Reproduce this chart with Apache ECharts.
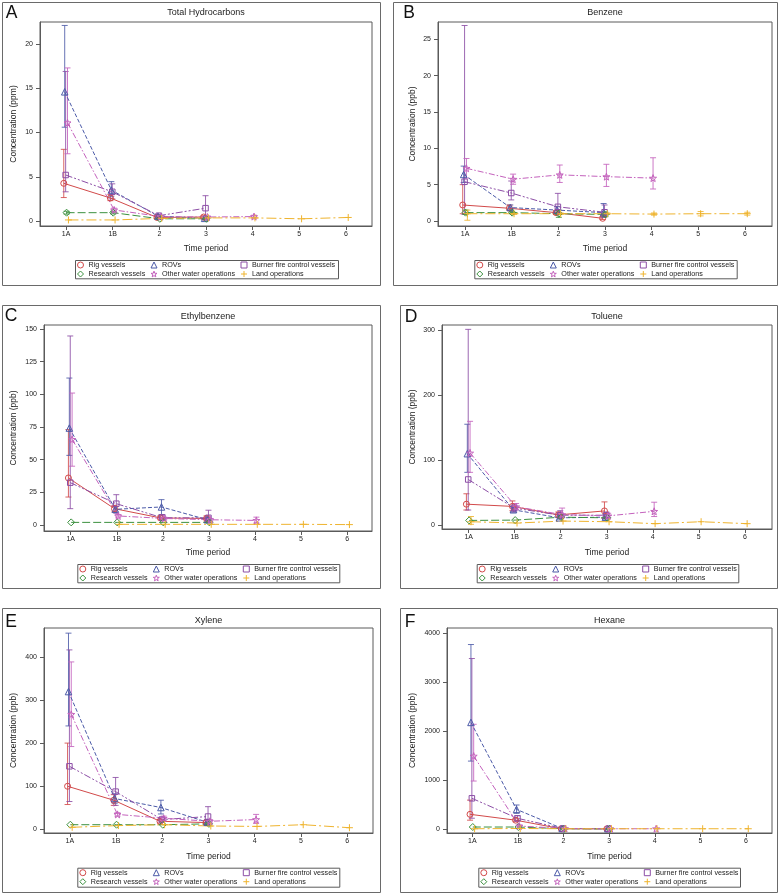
<!DOCTYPE html>
<html><head><meta charset="utf-8">
<script src="https://cdn.jsdelivr.net/npm/echarts@6/dist/echarts.min.js"></script>
<style>html,body{margin:0;padding:0;background:#fff}#c{width:780px;height:894px}</style>
</head><body><div id="c"></div>
<script>
// ---------- categories / groups ----------
const periods = ['1A','1B','2','3','4','5','6'];
const groups = ['Rig vessels','ROVs','Burner fire control vessels','Research vessels','Other water operations','Land operations'];
const N = null;

// ---------- A: Total Hydrocarbons (ppm) ----------
const thcTicks = [0,5,10,15,20];
const thcRig = [4.26,2.6,0.4,0.45,N,N,N], thcRigLo = [2.65,2.3,0.3,0.3,N,N,N], thcRigHi = [8.1,3.0,0.5,0.6,N,N,N];
const thcRov = [14.6,3.5,0.55,0.3,N,N,N], thcRovLo = [10.6,2.8,0.4,0.2,N,N,N], thcRovHi = [22.1,4.45,0.7,0.45,N,N,N];
const thcBur = [5.2,3.3,0.6,1.45,N,N,N], thcBurLo = [3.3,2.5,0.45,0.1,N,N,N], thcBurHi = [16.9,4.2,0.75,2.86,N,N,N];
const thcRes = [0.94,0.94,0.25,0.25,N,N,N], thcResLo = [0.78,0.8,0.15,0.15,N,N,N], thcResHi = [1.1,1.1,0.35,0.35,N,N,N];
const thcOth = [11.1,1.25,0.5,0.45,0.5,N,N], thcOthLo = [7.6,1.05,0.4,0.35,0.35,N,N], thcOthHi = [17.3,1.45,0.6,0.55,0.65,N,N];
const thcLand = [0.12,0.12,0.3,0.35,0.35,0.25,0.4], thcLandLo = [N,N,N,N,N,N,N], thcLandHi = [N,N,N,N,N,N,N];

// ---------- B: Benzene (ppb) ----------
const benTicks = [0,5,10,15,20,25];
const benRig = [2.2,1.75,1.15,0.37,N,N,N], benRigLo = [1.0,1.5,0.9,0.2,N,N,N], benRigHi = [5.0,2.2,1.4,0.6,N,N,N];
const benRov = [6.4,1.85,1.5,1.15,N,N,N], benRovLo = [5.3,1.5,1.1,0.5,N,N,N], benRovHi = [7.55,2.2,2.0,2.4,N,N,N];
const benBur = [5.4,3.85,1.95,1.2,N,N,N], benBurLo = [0.9,2.9,1.0,0.6,N,N,N], benBurHi = [26.9,5.5,3.8,2.2,N,N,N];
const benRes = [1.15,1.15,1.0,0.9,N,N,N], benResLo = [0.9,1.0,0.5,0.6,N,N,N], benResHi = [1.5,1.3,1.5,1.2,N,N,N];
const benOth = [7.25,5.75,6.35,6.1,5.9,N,N], benOthLo = [5.9,5.05,5.3,4.75,4.4,N,N], benOthHi = [8.6,6.45,7.7,7.8,8.7,N,N];
const benLand = [1.0,1.0,1.0,1.0,0.95,1.0,1.0], benLandLo = [0.1,0.9,0.9,0.9,0.8,0.7,0.8], benLandHi = [1.5,1.1,1.1,1.1,1.1,1.3,1.2];

// ---------- C: Ethylbenzene (ppb) ----------
const ethTicks = [0,25,50,75,100,125,150];
const ethRig = [36,12.5,5.4,5,N,N,N], ethRigLo = [21.4,10,4,3,N,N,N], ethRigHi = [73,15,7,7,N,N,N];
const ethRov = [74.2,12,13.8,4,N,N,N], ethRovLo = [53.3,10,8,2,N,N,N], ethRovHi = [112.5,14,19.4,6,N,N,N];
const ethBur = [32.4,16.3,5.5,5.5,N,N,N], ethBurLo = [12.5,9,3.5,2,N,N,N], ethBurHi = [144.7,23.2,8,11.3,N,N,N];
const ethRes = [2,2,2,2,N,N,N], ethResLo = [N,N,N,N,N,N,N], ethResHi = [N,N,N,N,N,N,N];
const ethOth = [65.5,6.9,5,4,3.5,N,N], ethOthLo = [45,6,4,3,1.5,N,N], ethOthHi = [101,8,6,5,6,N,N];
const ethLand = [N,0.5,0.5,0.5,0.5,0.5,0.3], ethLandLo = [N,N,N,N,N,N,N], ethLandHi = [N,N,N,N,N,N,N];

// ---------- D: Toluene (ppb) ----------
const tolTicks = [0,100,200,300];
const tolRig = [32,28.6,15.5,21.6,N,N,N], tolRigLo = [23,22,12,10,N,N,N], tolRigHi = [48,37,20,35.5,N,N,N];
const tolRov = [109.7,23.4,11,12,N,N,N], tolRovLo = [81,20,9,9,N,N,N], tolRovHi = [155,27,14,16,N,N,N];
const tolBur = [70,26,15,15,N,N,N], tolBurLo = [23,20,10,10,N,N,N], tolBurHi = [301,32,22,20,N,N,N];
const tolRes = [7,7.5,12,11,N,N,N], tolResLo = [N,N,N,N,N,N,N], tolResHi = [N,N,N,N,N,N,N];
const tolOth = [110.7,28,16,14,21,N,N], tolOthLo = [81,24,12,11,13,N,N], tolOthHi = [159.5,33,26,18,35,N,N];
const tolLand = [5,3,6,5,2,5,2], tolLandLo = [1,N,N,N,N,N,N], tolLandHi = [13,N,N,N,N,N,N];

// ---------- E: Xylene (ppb) ----------
const xylTicks = [0,100,200,300,400];
const xylRig = [99.5,67,18,15,N,N,N], xylRigLo = [57,55,14,10,N,N,N], xylRigHi = [200,80,22,20,N,N,N];
const xylRov = [320,71,50,16,N,N,N], xylRovLo = [240,60,35,10,N,N,N], xylRovHi = [456,82,67,22,N,N,N];
const xylBur = [146,87,22,29,N,N,N], xylBurLo = [64,55,18,8,N,N,N], xylBurHi = [417,120,27,52,N,N,N];
const xylRes = [10,10,10,12,N,N,N], xylResLo = [N,N,N,N,N,N,N], xylResHi = [N,N,N,N,N,N,N];
const xylOth = [267,34,25,18,22,N,N], xylOthLo = [192,30,20,14,13,N,N], xylOthHi = [389,38,30,22,34,N,N];
const xylLand = [4,8,10,7,6,10,3], xylLandLo = [N,N,N,N,N,N,N], xylLandHi = [N,N,N,N,N,N,N];

// ---------- F: Hexane (ppb) ----------
const hexTicks = [0,1000,2000,3000,4000];
const hexRig = [300,180,5,3,N,N,N], hexRigLo = [180,150,N,N,N,N,N], hexRigHi = [590,220,N,N,N,N,N];
const hexRov = [2178,400,10,5,N,N,N], hexRovLo = [1388,320,N,N,N,N,N], hexRovHi = [3770,490,N,N,N,N,N];
const hexBur = [627,218,10,5,N,N,N], hexBurLo = [220,170,N,N,N,N,N], hexBurHi = [3484,270,N,N,N,N,N];
const hexRes = [40,40,5,3,N,N,N], hexResLo = [N,N,N,N,N,N,N], hexResHi = [N,N,N,N,N,N,N];
const hexOth = [1490,60,10,5,5,N,N], hexOthLo = [980,40,N,N,N,N,N], hexOthHi = [2140,80,N,N,N,N,N];
const hexLand = [5,10,5,5,5,5,5], hexLandLo = [N,N,N,N,N,N,N], hexLandHi = [N,N,N,N,N,N,N];

// ---------- panel assembly ----------
const panels = [
  {letter:'A', title:'Total Hydrocarbons', ylabel:'Concentration (ppm)', ticks:thcTicks,
   s:[[thcRig,thcRigLo,thcRigHi],[thcRov,thcRovLo,thcRovHi],[thcBur,thcBurLo,thcBurHi],[thcRes,thcResLo,thcResHi],[thcOth,thcOthLo,thcOthHi],[thcLand,thcLandLo,thcLandHi]]},
  {letter:'B', title:'Benzene', ylabel:'Concentration (ppb)', ticks:benTicks,
   s:[[benRig,benRigLo,benRigHi],[benRov,benRovLo,benRovHi],[benBur,benBurLo,benBurHi],[benRes,benResLo,benResHi],[benOth,benOthLo,benOthHi],[benLand,benLandLo,benLandHi]]},
  {letter:'C', title:'Ethylbenzene', ylabel:'Concentration (ppb)', ticks:ethTicks,
   s:[[ethRig,ethRigLo,ethRigHi],[ethRov,ethRovLo,ethRovHi],[ethBur,ethBurLo,ethBurHi],[ethRes,ethResLo,ethResHi],[ethOth,ethOthLo,ethOthHi],[ethLand,ethLandLo,ethLandHi]]},
  {letter:'D', title:'Toluene', ylabel:'Concentration (ppb)', ticks:tolTicks,
   s:[[tolRig,tolRigLo,tolRigHi],[tolRov,tolRovLo,tolRovHi],[tolBur,tolBurLo,tolBurHi],[tolRes,tolResLo,tolResHi],[tolOth,tolOthLo,tolOthHi],[tolLand,tolLandLo,tolLandHi]]},
  {letter:'E', title:'Xylene', ylabel:'Concentration (ppb)', ticks:xylTicks,
   s:[[xylRig,xylRigLo,xylRigHi],[xylRov,xylRovLo,xylRovHi],[xylBur,xylBurLo,xylBurHi],[xylRes,xylResLo,xylResHi],[xylOth,xylOthLo,xylOthHi],[xylLand,xylLandLo,xylLandHi]]},
  {letter:'F', title:'Hexane', ylabel:'Concentration (ppb)', ticks:hexTicks,
   s:[[hexRig,hexRigLo,hexRigHi],[hexRov,hexRovLo,hexRovHi],[hexBur,hexBurLo,hexBurHi],[hexRes,hexResLo,hexResHi],[hexOth,hexOthLo,hexOthHi],[hexLand,hexLandLo,hexLandHi]]}
];

// ---------- layout (pixels) ----------
const layout = [
  {box:[2,2,380,285],    grid:[40,22,332,204],  xr:[-0.56,6.56],  ymin:-0.565, ymax:22.49, letter:[11.5,13.5], title:[206,13],    yGap:22, xGap:18, leg:[75,260,263,18.3]},
  {box:[393,2,777,285],  grid:[438,22,334,204], xr:[-0.58,6.58],  ymin:-0.69,  ymax:27.38, letter:[409,13.5],  title:[605,13],    yGap:21, xGap:18, leg:[474.3,260,262.4,18.3]},
  {box:[2,305,380,588],  grid:[44,325,328,206], xr:[-0.58,6.54],  ymin:-4.6,   ymax:153.1, letter:[11,316.5],  title:[208,317],   yGap:26, xGap:17, leg:[77.3,564,262,18.3]},
  {box:[400,305,777,588],grid:[442,325,330,204],xr:[-0.58,6.59],  ymin:-6.2,   ymax:307.7, letter:[411,317],   title:[607,317],   yGap:25, xGap:19, leg:[476.7,564,261.6,18.3]},
  {box:[2,608,380,892],  grid:[44,628,329,205], xr:[-0.56,6.56],  ymin:-9.3,   ymax:468,   letter:[11,622],    title:[208.5,621], yGap:26, xGap:19, leg:[77.3,867.7,262,19]},
  {box:[400,608,777,892],grid:[447,628,325,205],xr:[-0.555,6.57], ymin:-82,    ymax:4108,  letter:[410,622],   title:[609.5,621], yGap:30, xGap:19, leg:[478.3,867.7,261.7,19]}
];

// ---------- styles ----------
const FONT = '"Liberation Sans", Arial, sans-serif';
const TXT = '#222';
const FRAME = '#5a5a5a';
const STAR = 'path://M0,-10 L2.35,-3.24 L9.51,-3.09 L3.8,1.24 L5.88,8.09 L0,4.2 L-5.88,8.09 L-3.8,1.24 L-9.51,-3.09 L-2.35,-3.24 Z';
const PLUS = 'path://M0,-5 L0,5 M-5,0 L5,0';
const gstyle = [
  {color:'#d24a4a', symbol:'circle',   size:6,   dash:'solid',       off:-0.05},
  {color:'#4b5aa8', symbol:'triangle', size:6.5, dash:[4,2],          off:-0.03},
  {color:'#8c4ea6', symbol:'rect',     size:5.5, dash:[7,2,2,2,2,2],  off:-0.01},
  {color:'#3c913f', symbol:'diamond',  size:7,   dash:[8,3],          off:0.01},
  {color:'#c462bd', symbol:STAR,       size:7,   dash:[6,2,1.5,2],    off:0.03},
  {color:'#efb42f', symbol:PLUS,       size:7,   dash:[10,3,2,3],     off:0.05}
];

const grid = [], xAxis = [], yAxis = [], series = [], legend = [], graphic = [];

panels.forEach((p, pi) => {
  const L = layout[pi];
  grid.push({left:L.grid[0], top:L.grid[1], width:L.grid[2], height:L.grid[3], show:true, borderColor:FRAME, borderWidth:1, backgroundColor:'#fff'});
  xAxis.push({
    gridIndex:pi, type:'value', min:L.xr[0], max:L.xr[1],
    axisLine:{show:true, onZero:false, lineStyle:{color:FRAME, width:1}},
    axisTick:{show:true, length:4, customValues:[0,1,2,3,4,5,6], lineStyle:{color:FRAME}},
    axisLabel:{customValues:[0,1,2,3,4,5,6], formatter:v => periods[Math.round(v)], fontSize:7, color:TXT, fontFamily:FONT, margin:5},
    splitLine:{show:false},
    name:'Time period', nameLocation:'middle', nameGap:L.xGap,
    nameTextStyle:{fontSize:8.5, color:TXT, fontFamily:FONT}
  });
  yAxis.push({
    gridIndex:pi, type:'value', min:L.ymin, max:L.ymax,
    axisLine:{show:true, onZero:false, lineStyle:{color:FRAME, width:1}},
    axisTick:{show:true, length:4, customValues:p.ticks, lineStyle:{color:FRAME}},
    axisLabel:{customValues:p.ticks, formatter:v => String(v), fontSize:7, color:TXT, fontFamily:FONT, margin:7},
    splitLine:{show:false},
    name:p.ylabel, nameLocation:'middle', nameGap:L.yGap,
    nameTextStyle:{fontSize:8.5, color:TXT, fontFamily:FONT}
  });

  p.s.forEach((arrs, gi) => {
    const st = gstyle[gi];
    const [mean, lo, hi] = arrs;
    const pts = [], errs = [];
    mean.forEach((v, i) => { if (v !== null) pts.push([i + st.off, v]); });
    lo.forEach((v, i) => { if (v !== null && hi[i] !== null) errs.push([i + st.off, v, hi[i]]); });
    if (errs.length) {
      series.push({
        type:'custom', xAxisIndex:pi, yAxisIndex:pi, silent:true, z:2,
        data:errs,
        encode:{x:0, y:[1,2]},
        renderItem:(params, api) => {
          const x = api.value(0);
          const a = api.coord([x, api.value(1)]);
          const b = api.coord([x, api.value(2)]);
          const w = 3;
          const s = {stroke:st.color, lineWidth:1, opacity:0.85};
          return {type:'group', children:[
            {type:'line', shape:{x1:a[0], y1:a[1], x2:b[0], y2:b[1]}, style:s},
            {type:'line', shape:{x1:a[0]-w, y1:a[1], x2:a[0]+w, y2:a[1]}, style:s},
            {type:'line', shape:{x1:b[0]-w, y1:b[1], x2:b[0]+w, y2:b[1]}, style:s}
          ]};
        }
      });
    }
    series.push({
      type:'line', name:groups[gi], xAxisIndex:pi, yAxisIndex:pi, z:3,
      data:pts, symbol:st.symbol, symbolSize:st.size, showSymbol:true,
      lineStyle:{color:st.color, width:1, type:st.dash},
      itemStyle:{color:'rgba(255,255,255,0)', borderColor:st.color, borderWidth:1},
      emphasis:{disabled:true}, animation:false
    });
  });

  // legend: 3 columns x 2 rows, one component per entry
  const colX = [5, 78.5, 168.5];
  const rowY = [5, 14];
  const [lx, ly, lw, lh] = L.leg;
  groups.forEach((g, gi) => {
    const st = gstyle[gi];
    const col = gi % 3, row = Math.floor(gi / 3);
    legend.push({
      data:[{name:g, icon:st.symbol}],
      left:lx + colX[col] - 3, top:ly + rowY[row] - 4,
      orient:'horizontal', padding:0, itemGap:0, itemWidth:6, itemHeight:6,
      selectedMode:false,
      itemStyle:{color:'rgba(255,255,255,0)', borderColor:st.color, borderWidth:1},
      textStyle:{fontSize:7.2, color:TXT, fontFamily:FONT, lineHeight:8}
    });
  });
  graphic.push({type:'rect', silent:true, shape:{x:lx+0.5, y:ly+0.5, width:lw, height:lh}, style:{fill:'none', stroke:FRAME, lineWidth:1}});
  // outer panel box
  graphic.push({type:'rect', silent:true, z:-1, shape:{x:L.box[0]+0.5, y:L.box[1]+0.5, width:L.box[2]-L.box[0], height:L.box[3]-L.box[1]}, style:{fill:'none', stroke:'#6a6a6a', lineWidth:1}});
  // panel letter
  graphic.push({type:'text', silent:true, x:L.letter[0], y:L.letter[1], style:{text:p.letter, font:'17.5px ' + FONT, fill:'#111', align:'center', verticalAlign:'middle', textAlign:'center', textVerticalAlign:'middle'}});
  // panel title
  graphic.push({type:'text', silent:true, x:L.title[0], y:L.title[1], style:{text:p.title, font:'9px ' + FONT, fill:TXT, align:'center', verticalAlign:'middle', textAlign:'center', textVerticalAlign:'middle'}});
});

const chart = echarts.init(document.getElementById('c'), null, {renderer:'canvas'});
chart.setOption({
  animation:false,
  backgroundColor:'#fff',
  grid, xAxis, yAxis, series, legend, graphic
});
</script>
</body></html>
